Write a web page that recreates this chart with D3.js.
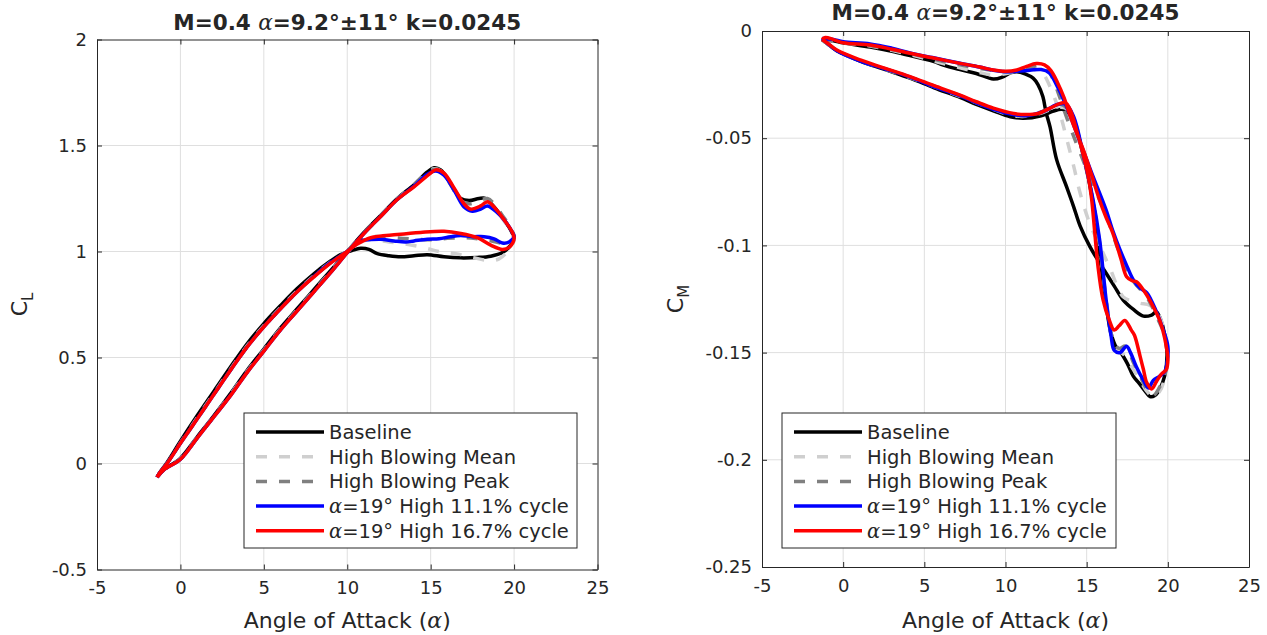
<!DOCTYPE html>
<html>
<head>
<meta charset="utf-8">
<script src="https://cdn.jsdelivr.net/npm/d3@7"></script>
<style>
  body { margin: 0; background: #fff; }
  text { font-family: "DejaVu Sans", sans-serif; fill: #262626; }
</style>
</head>
<body>
<svg id="fig" width="1267" height="635"></svg>
<script>
// ---- axis ticks ----
const alphaTicks = [-5, 0, 5, 10, 15, 20, 25];
const clTicks = [-0.5, 0, 0.5, 1, 1.5, 2];
const cmTicks = [-0.25, -0.2, -0.15, -0.1, -0.05, 0];

// ---- legend entries ----
const seriesLabels = ["Baseline", "High Blowing Mean", "High Blowing Peak",
                      "=19° High 11.1% cycle", "=19° High 16.7% cycle"];
const seriesHasAlpha = [false, false, false, true, true];

// ---- lift coefficient loops: [angle of attack, CL] ----
const clBaseline = [[-1.4,-0.065],[-1,-0.03],[0,0.025],[1,0.125],[2,0.225],[3,0.33],[4,0.44],[5,0.54],[6,0.64],[7,0.73],[8,0.82],[9,0.91],[10,1.0],[11,1.09],[12,1.17],[13,1.25],[14,1.315],[14.8,1.375],[15.2,1.395],[15.6,1.385],[16.2,1.32],[16.8,1.25],[17.3,1.24],[17.9,1.25],[18.3,1.25],[18.7,1.22],[19.3,1.16],[19.8,1.1],[20.0,1.06],[19.8,1.03],[19.3,0.995],[18.6,0.978],[17.8,0.972],[16.8,0.97],[15.8,0.975],[14.8,0.985],[14,0.98],[13.2,0.975],[12.5,0.98],[11.8,0.99],[11.3,1.01],[10.8,1.015],[10.3,1.005],[9.6,0.985],[9,0.955],[8,0.895],[7,0.825],[6,0.745],[5,0.66],[4,0.565],[3,0.455],[2,0.34],[1,0.225],[0,0.105],[-0.8,0.005],[-1.3,-0.05],[-1.4,-0.065]];
const clMean = [[-1.4,-0.065],[-1,-0.03],[0,0.022],[1,0.122],[2,0.222],[3,0.325],[4,0.435],[5,0.535],[6,0.635],[7,0.725],[8,0.815],[9,0.905],[10,0.998],[11,1.088],[12,1.168],[13,1.248],[14,1.312],[14.8,1.372],[15.2,1.39],[15.6,1.38],[16.2,1.315],[16.8,1.24],[17.3,1.225],[17.9,1.235],[18.3,1.24],[18.7,1.215],[19.3,1.155],[19.8,1.095],[20,1.055],[19.6,1.0],[19.1,0.965],[18.5,0.958],[17.5,0.972],[16.5,0.99],[15.5,1.0],[14.5,1.02],[13.5,1.035],[12.5,1.045],[11.6,1.055],[11,1.05],[10.4,1.02],[10,1.0],[9,0.95],[8,0.885],[7,0.815],[6,0.735],[5,0.65],[4,0.555],[3,0.445],[2,0.33],[1,0.215],[0,0.097],[-0.8,0.0],[-1.3,-0.05],[-1.4,-0.065]];
const clPeak = [[-1.4,-0.065],[-1,-0.03],[0,0.02],[1,0.12],[2,0.22],[3,0.322],[4,0.432],[5,0.532],[6,0.632],[7,0.722],[8,0.812],[9,0.902],[10,0.996],[11,1.085],[12,1.166],[13,1.246],[14,1.31],[14.8,1.37],[15.2,1.388],[15.6,1.38],[16.2,1.315],[16.8,1.24],[17.3,1.225],[17.9,1.24],[18.4,1.25],[18.8,1.225],[19.3,1.17],[19.8,1.11],[20,1.065],[19.6,1.04],[19.2,1.04],[18.6,1.05],[17.8,1.06],[17,1.065],[16,1.062],[15,1.055],[14,1.058],[13,1.064],[12,1.07],[11.2,1.068],[10.5,1.04],[10,1.0],[9,0.948],[8,0.883],[7,0.81],[6,0.73],[5,0.645],[4,0.55],[3,0.44],[2,0.325],[1,0.21],[0,0.095],[-0.8,0.0],[-1.3,-0.05],[-1.4,-0.065]];
const clCycle111 = [[-1.4,-0.065],[-1,-0.03],[0,0.02],[1,0.12],[2,0.22],[3,0.32],[4,0.43],[5,0.53],[6,0.63],[7,0.72],[8,0.81],[9,0.9],[10,0.995],[11,1.085],[12,1.165],[13,1.245],[14,1.308],[14.8,1.365],[15.3,1.38],[15.8,1.36],[16.4,1.29],[17,1.21],[17.5,1.19],[18,1.2],[18.4,1.215],[18.9,1.19],[19.5,1.14],[19.9,1.09],[20,1.07],[19.7,1.045],[19.3,1.04],[18.8,1.06],[18.2,1.07],[17.5,1.07],[16.8,1.075],[16.2,1.07],[15.5,1.06],[14.8,1.058],[14,1.05],[13.5,1.045],[12.8,1.05],[12,1.058],[11.4,1.056],[10.8,1.05],[10.3,1.02],[10,1.0],[9,0.948],[8,0.882],[7,0.81],[6,0.73],[5,0.645],[4,0.55],[3,0.44],[2,0.325],[1,0.21],[0,0.095],[-0.8,0.0],[-1.3,-0.05],[-1.4,-0.065]];
const clCycle167 = [[-1.4,-0.065],[-1,-0.03],[0,0.02],[1,0.12],[2,0.22],[3,0.32],[4,0.43],[5,0.53],[6,0.63],[7,0.72],[8,0.81],[9,0.9],[10,0.995],[11,1.085],[12,1.165],[13,1.245],[14,1.305],[15,1.37],[15.3,1.385],[15.8,1.37],[16.4,1.3],[17,1.225],[17.4,1.2],[18,1.215],[18.4,1.235],[18.8,1.21],[19.4,1.15],[19.9,1.09],[20,1.06],[19.7,1.02],[19.3,1.01],[18.6,1.03],[17.8,1.065],[16.8,1.085],[15.8,1.095],[14.4,1.09],[13,1.08],[11.4,1.065],[10.6,1.035],[10,1.0],[9,0.945],[8,0.88],[7,0.81],[6,0.73],[5,0.645],[4,0.55],[3,0.44],[2,0.325],[1,0.21],[0,0.095],[-0.8,0.0],[-1.3,-0.05],[-1.4,-0.065]];

// ---- pitching moment loops: [angle of attack, CM] ----
const cmBaseline = [[-1.3,-0.004],[-0.6,-0.0045],[0,-0.0055],[1.66,-0.0075],[3,-0.0095],[4.12,-0.0115],[5.5,-0.014],[6.17,-0.0159],[7.2,-0.018],[8.2,-0.0198],[9.25,-0.0224],[9.8,-0.0215],[10.3,-0.0195],[10.7,-0.019],[11.2,-0.02],[11.7,-0.022],[12.0,-0.025],[12.3,-0.0306],[12.5,-0.038],[12.74,-0.0446],[13.15,-0.06],[13.76,-0.0726],[14.2,-0.082],[14.6,-0.091],[15.2,-0.1006],[15.7,-0.107],[16.2,-0.113],[16.7,-0.119],[17.25,-0.1255],[17.9,-0.13],[18.5,-0.133],[19.0,-0.1325],[19.3,-0.131],[19.7,-0.138],[19.95,-0.15],[19.8,-0.161],[19.5,-0.167],[19.2,-0.17],[18.9,-0.1705],[18.6,-0.168],[18.2,-0.164],[17.87,-0.161],[17.5,-0.155],[17.1,-0.15],[16.85,-0.148],[16.5,-0.141],[16.2,-0.128],[15.9,-0.11],[15.6,-0.09],[15.2,-0.072],[14.7,-0.055],[14.1,-0.04],[13.5,-0.0365],[12.9,-0.0375],[12.2,-0.0395],[11.1,-0.0407],[10.3,-0.04],[9.25,-0.0372],[8.2,-0.0342],[7.2,-0.031],[5.6,-0.0265],[4.12,-0.022],[2.5,-0.0178],[1.05,-0.014],[-0.39,-0.0092],[-1.0,-0.0058],[-1.3,-0.004]];
const cmMean = [[-1.3,-0.004],[0,-0.0055],[1.66,-0.007],[4.12,-0.011],[6.17,-0.0152],[8.2,-0.019],[9.25,-0.0205],[10.3,-0.0195],[11.0,-0.0185],[11.7,-0.018],[12.3,-0.02],[12.8,-0.027],[13.35,-0.0384],[13.76,-0.05],[14.2,-0.063],[14.6,-0.0757],[15.2,-0.09],[15.8,-0.1],[16.4,-0.11],[17.25,-0.124],[17.8,-0.126],[18.3,-0.127],[18.9,-0.128],[19.4,-0.132],[19.8,-0.14],[20,-0.152],[19.8,-0.162],[19.5,-0.168],[19.1,-0.1705],[18.7,-0.168],[18.3,-0.163],[17.8,-0.157],[17.3,-0.151],[16.9,-0.149],[16.5,-0.141],[16.2,-0.124],[15.8,-0.1],[15.4,-0.08],[14.9,-0.061],[14.3,-0.043],[13.7,-0.036],[13,-0.036],[12.3,-0.038],[11.2,-0.0398],[10.3,-0.0392],[9.25,-0.0365],[7.2,-0.0305],[4.12,-0.0217],[1.05,-0.0138],[-0.39,-0.009],[-1.3,-0.004]];
const cmPeak = [[-1.3,-0.004],[0,-0.0055],[1.66,-0.0068],[4.12,-0.0105],[6.17,-0.0142],[8.2,-0.0172],[9.25,-0.0185],[10.3,-0.019],[11.0,-0.0182],[11.6,-0.0168],[12.1,-0.016],[12.5,-0.0168],[12.9,-0.022],[13.3,-0.03],[13.8,-0.041],[14.5,-0.055],[15.3,-0.07],[16.2,-0.086],[17.1,-0.105],[17.9,-0.117],[18.7,-0.124],[19.3,-0.133],[19.8,-0.142],[20,-0.152],[19.8,-0.161],[19.5,-0.166],[19.1,-0.17],[18.7,-0.167],[18.3,-0.161],[17.9,-0.155],[17.4,-0.147],[17,-0.148],[16.6,-0.144],[16.2,-0.126],[15.8,-0.099],[15.4,-0.08],[14.9,-0.062],[14.3,-0.044],[13.8,-0.036],[13.2,-0.034],[12.6,-0.0365],[11.3,-0.0395],[10.3,-0.0388],[9.25,-0.0363],[7.2,-0.0302],[4.12,-0.0215],[1.05,-0.0138],[-0.39,-0.009],[-1.3,-0.004]];
const cmCycle111 = [[-1.3,-0.0035],[-0.6,-0.004],[0,-0.005],[1.66,-0.006],[3,-0.008],[4.12,-0.0102],[5.5,-0.0124],[7.2,-0.015],[8.4,-0.0168],[9.25,-0.0183],[10.0,-0.019],[10.7,-0.0188],[11.5,-0.0183],[12.2,-0.018],[12.7,-0.0195],[13.2,-0.026],[13.8,-0.036],[14.5,-0.05],[15.3,-0.066],[16.2,-0.0835],[16.6,-0.093],[17.05,-0.102],[17.5,-0.11],[17.87,-0.116],[18.3,-0.12],[18.7,-0.122],[19.3,-0.131],[19.7,-0.139],[20.0,-0.147],[19.95,-0.155],[19.8,-0.159],[19.5,-0.161],[19.1,-0.163],[18.8,-0.1665],[18.5,-0.163],[18.06,-0.1566],[17.7,-0.15],[17.46,-0.147],[17.05,-0.15],[16.7,-0.149],[16.5,-0.142],[16.2,-0.1255],[15.8,-0.0975],[15.4,-0.079],[14.8,-0.058],[14.2,-0.04],[13.7,-0.034],[13.1,-0.0345],[12.5,-0.037],[11.3,-0.0395],[10.5,-0.039],[9.25,-0.0365],[8.2,-0.0335],[7.2,-0.0302],[5.6,-0.026],[4.12,-0.0215],[2.5,-0.0175],[1.05,-0.014],[-0.39,-0.0092],[-1.0,-0.0055],[-1.3,-0.0035]];
const cmCycle167 = [[-1.3,-0.004],[-1.1,-0.003],[-0.6,-0.004],[0,-0.0055],[1.66,-0.0065],[3,-0.0085],[4.12,-0.0104],[5.5,-0.0125],[7.2,-0.0151],[8.4,-0.0168],[9.25,-0.0182],[10.0,-0.0188],[10.7,-0.0182],[11.3,-0.0165],[11.9,-0.0152],[12.4,-0.0158],[12.8,-0.0185],[13.2,-0.024],[13.6,-0.031],[14.0,-0.04],[14.4,-0.048],[14.8,-0.0555],[15.3,-0.067],[15.8,-0.079],[16.2,-0.087],[16.6,-0.094],[17.1,-0.106],[17.46,-0.1146],[17.8,-0.1165],[18.07,-0.117],[18.6,-0.122],[19.1,-0.1286],[19.5,-0.135],[19.8,-0.143],[20.0,-0.1535],[19.9,-0.158],[19.6,-0.16],[19.3,-0.1635],[19.0,-0.167],[18.7,-0.164],[18.5,-0.158],[18.3,-0.152],[17.95,-0.142],[17.75,-0.1395],[17.35,-0.135],[17.0,-0.1375],[16.7,-0.1395],[16.4,-0.135],[16.0,-0.125],[15.7,-0.11],[15.5,-0.094],[15.3,-0.078],[15.1,-0.068],[14.8,-0.058],[14.4,-0.047],[14.0,-0.037],[13.7,-0.0335],[13.3,-0.034],[12.74,-0.036],[12.0,-0.0385],[11.3,-0.039],[10.5,-0.0385],[9.25,-0.036],[8.2,-0.033],[7.2,-0.0299],[5.6,-0.0255],[4.12,-0.0213],[2.5,-0.0172],[1.05,-0.0135],[-0.39,-0.0089],[-1.0,-0.0055],[-1.3,-0.004]];

// ---- line styles, in legend order ----
const lineColors = ["#000000", "#cfcfcf", "#808080", "#0000ff", "#ff0000"];
const lineDashes = [null, "11,12", "11,12", null, null];
const lineWidth = 3.5;

const svg = d3.select("#fig");
const fontTick = 18, fontLabel = 22, fontLegend = 19.5, fontTitle = 21.5;

const panels = [
  { series: [clBaseline, clMean, clPeak, clCycle111, clCycle167],
    yDomain: [-0.5, 2], yTicks: clTicks, sub: "L",
    box: { left: 97, right: 597.5, top: 39.5, bottom: 569.5 },
    titleGap: 10, yLabelX: 27,
    legend: { x: 244, y: 413, w: 333, h: 135 } },
  { series: [cmBaseline, cmMean, cmPeak, cmCycle111, cmCycle167],
    yDomain: [-0.25, 0], yTicks: cmTicks, sub: "M",
    box: { left: 762, right: 1249, top: 31, bottom: 567 },
    titleGap: 11, yLabelX: 683,
    legend: { x: 782, y: 413, w: 334, h: 135 } }
];

function titleText(sel) {
  sel.append("tspan").attr("font-weight", "bold").text("M=0.4 ");
  sel.append("tspan").attr("font-family", "DejaVu Serif").attr("font-style", "italic").text("α");
  sel.append("tspan").attr("font-weight", "bold").text("=9.2°±11° k=0.0245");
}

panels.forEach((p, pi) => {
  const b = p.box;
  const x = d3.scaleLinear().domain([-5, 25]).range([b.left, b.right]);
  const y = d3.scaleLinear().domain(p.yDomain).range([b.bottom, b.top]);
  const g = svg.append("g");

  // grid
  g.append("g").selectAll("line").data(alphaTicks.slice(1, -1)).join("line")
    .attr("x1", d => x(d)).attr("x2", d => x(d))
    .attr("y1", b.top).attr("y2", b.bottom)
    .attr("stroke", "#dfdfdf").attr("stroke-width", 1);
  g.append("g").selectAll("line").data(p.yTicks.slice(1, -1)).join("line")
    .attr("y1", d => y(d)).attr("y2", d => y(d))
    .attr("x1", b.left).attr("x2", b.right)
    .attr("stroke", "#dfdfdf").attr("stroke-width", 1);

  // data loops
  const clipId = "clip" + pi;
  svg.append("clipPath").attr("id", clipId).append("rect")
    .attr("x", b.left).attr("y", b.top).attr("width", b.right - b.left).attr("height", b.bottom - b.top);
  const line = d3.line().x(d => x(d[0])).y(d => y(d[1])).curve(d3.curveCatmullRom.alpha(0.5));
  g.append("g").attr("clip-path", `url(#${clipId})`)
    .selectAll("path").data(p.series).join("path")
    .attr("d", line)
    .attr("fill", "none")
    .attr("stroke", (d, i) => lineColors[i])
    .attr("stroke-width", lineWidth)
    .attr("stroke-dasharray", (d, i) => lineDashes[i])
    .attr("stroke-linejoin", "round")
    .attr("stroke-linecap", "butt");

  // axes (ticks pointing inward on all four sides)
  const fmt = d => String(d);
  const ax = (axis, tx, ty, labels) => {
    const a = g.append("g").attr("transform", `translate(${tx},${ty})`).call(axis);
    a.select(".domain").attr("stroke", "#262626").attr("stroke-width", 1);
    a.selectAll(".tick line").attr("stroke", "#262626");
    a.selectAll(".tick text").attr("font-size", fontTick).attr("font-family", "DejaVu Sans").attr("fill", "#262626");
    if (!labels) a.selectAll(".tick text").remove();
    return a;
  };
  ax(d3.axisBottom(x).tickValues(alphaTicks).tickFormat(fmt).tickSizeInner(-5).tickSizeOuter(0).tickPadding(12), 0, b.bottom, true);
  ax(d3.axisTop(x).tickValues(alphaTicks).tickFormat(fmt).tickSizeInner(-5).tickSizeOuter(0), 0, b.top, false);
  ax(d3.axisLeft(y).tickValues(p.yTicks).tickFormat(fmt).tickSizeInner(-5).tickSizeOuter(0).tickPadding(10), b.left, 0, true);
  ax(d3.axisRight(y).tickValues(p.yTicks).tickFormat(fmt).tickSizeInner(-5).tickSizeOuter(0), b.right, 0, false);

  const cx = (b.left + b.right) / 2, cy = (b.top + b.bottom) / 2;

  // title
  const t = g.append("text").attr("x", cx).attr("y", b.top - p.titleGap)
    .attr("text-anchor", "middle").attr("font-size", fontTitle).attr("fill", "#000");
  titleText(t);

  // x label
  const xl = g.append("text").attr("x", cx).attr("y", 628)
    .attr("text-anchor", "middle").attr("font-size", fontLabel);
  xl.append("tspan").text("Angle of Attack (");
  xl.append("tspan").attr("font-family", "DejaVu Serif").attr("font-style", "italic").text("α");
  xl.append("tspan").text(")");

  // y label
  const yl = g.append("text").attr("transform", `translate(${p.yLabelX},${cy}) rotate(-90)`)
    .attr("text-anchor", "middle").attr("font-size", fontLabel);
  yl.append("tspan").text("C");
  yl.append("tspan").attr("font-size", 15).attr("dy", 6).text(p.sub);

  // legend
  const L = p.legend;
  const lg = g.append("g");
  lg.append("rect").attr("x", L.x).attr("y", L.y).attr("width", L.w).attr("height", L.h)
    .attr("fill", "#fff").attr("stroke", "#262626").attr("stroke-width", 1);
  const rowY = i => L.y + 19 + i * 24.7;
  seriesLabels.forEach((lab, i) => {
    lg.append("line").attr("x1", L.x + 12).attr("x2", L.x + 80)
      .attr("y1", rowY(i)).attr("y2", rowY(i))
      .attr("stroke", lineColors[i]).attr("stroke-width", lineWidth)
      .attr("stroke-dasharray", lineDashes[i]);
    const tx = lg.append("text").attr("x", L.x + 85).attr("y", rowY(i)).attr("dy", "0.35em")
      .attr("font-size", fontLegend);
    if (seriesHasAlpha[i]) {
      tx.append("tspan").attr("font-family", "DejaVu Serif").attr("font-style", "italic").text("α");
    }
    tx.append("tspan").text(lab);
  });
});
</script>
</body>
</html>
